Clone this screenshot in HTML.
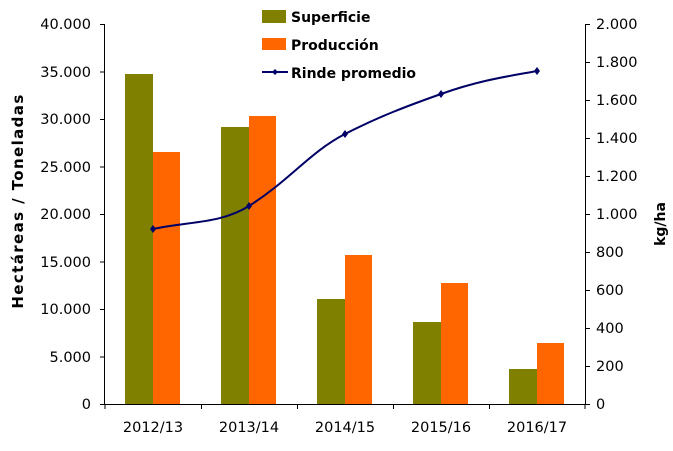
<!DOCTYPE html>
<html><head><meta charset="utf-8"><style>
body{margin:0;background:#fff}
svg{display:block;font-family:Verdana,"DejaVu Sans",sans-serif;font-size:14.5px}
</style></head><body>
<svg width="673" height="451" viewBox="0 0 673 451">
<g fill="#808000">
<rect x="125" y="74" width="28" height="330"/>
<rect x="221" y="127" width="28" height="277"/>
<rect x="317" y="299" width="28" height="105"/>
<rect x="413" y="322" width="28" height="82"/>
<rect x="509" y="369" width="28" height="35"/>
</g>
<g fill="#FF6600">
<rect x="153" y="152" width="27" height="252"/>
<rect x="249" y="116" width="27" height="288"/>
<rect x="345" y="255" width="27" height="149"/>
<rect x="441" y="283" width="27" height="121"/>
<rect x="537" y="343" width="27" height="61"/>
</g>
<g stroke="#000" stroke-width="1" fill="none">
<path d="M104.5 24V404.5H585.5V24"/>
<path d="M100 24.5h4M100 72h4M100 119.5h4M100 167h4M100 214.5h4M100 262h4M100 309.5h4M100 357h4M100 404.5h4"/>
<path d="M585 24.5h5M585 62.5h5M585 100.5h5M585 138.5h5M585 176.5h5M585 214.5h5M585 252.5h5M585 290.5h5M585 328.5h5M585 366.5h5M585 404.5h5"/>
<path d="M201.5 404v5M297.5 404v5M393.5 404v5M489.5 404v5M105 404v5M585 404v5"/>
</g>
<path d="M153 229 C190 221,220 224,249 206 C290 180,310 152,345 134 C380 116,410 105,441 94 C480 80,510 76,537 71" stroke="#000066" stroke-width="2" fill="none"/>
<g fill="#000066">
<path d="M153 225l3 4-3 4-3-4z"/><path d="M249 202l3 4-3 4-3-4z"/><path d="M345 130l3 4-3 4-3-4z"/><path d="M441 90l3 4-3 4-3-4z"/><path d="M537 67l3 4-3 4-3-4z"/>
</g>
<g text-anchor="end" fill="#000">
<text x="91" y="29">40.000</text><text x="91" y="77">35.000</text><text x="91" y="124">30.000</text><text x="91" y="172">25.000</text><text x="91" y="219">20.000</text><text x="91" y="267">15.000</text><text x="91" y="314">10.000</text><text x="91" y="362">5.000</text><text x="91" y="409">0</text>
</g>
<g fill="#000">
<text x="596" y="29">2.000</text><text x="596" y="67">1.800</text><text x="596" y="105">1.600</text><text x="596" y="143">1.400</text><text x="596" y="181">1.200</text><text x="596" y="219">1.000</text><text x="596" y="257">800</text><text x="596" y="295">600</text><text x="596" y="333">400</text><text x="596" y="371">200</text><text x="596" y="409">0</text>
</g>
<g text-anchor="middle" fill="#000">
<text x="153" y="432">2012/13</text><text x="249" y="432">2013/14</text><text x="345" y="432">2014/15</text><text x="441" y="432">2015/16</text><text x="537" y="432">2016/17</text>
</g>
<text transform="translate(23,201) rotate(-90)" text-anchor="middle" font-weight="bold" font-size="15" letter-spacing="1.4">Hectáreas / Toneladas</text>
<text transform="translate(665,224) rotate(-90)" text-anchor="middle" font-weight="bold" font-size="14">kg/ha</text>
<rect x="262" y="10" width="24" height="13" fill="#808000"/>
<rect x="262" y="38" width="24" height="12" fill="#FF6600"/>
<path d="M262 72H288" stroke="#000066" stroke-width="2"/>
<path d="M275 69l3 3-3 3-3-3z" fill="#000066"/>
<g font-weight="bold" fill="#000" font-size="14">
<text x="291" y="22">Superficie</text>
<text x="291" y="50">Producción</text>
<text x="291" y="78">Rinde promedio</text>
</g>
</svg>
</body></html>
